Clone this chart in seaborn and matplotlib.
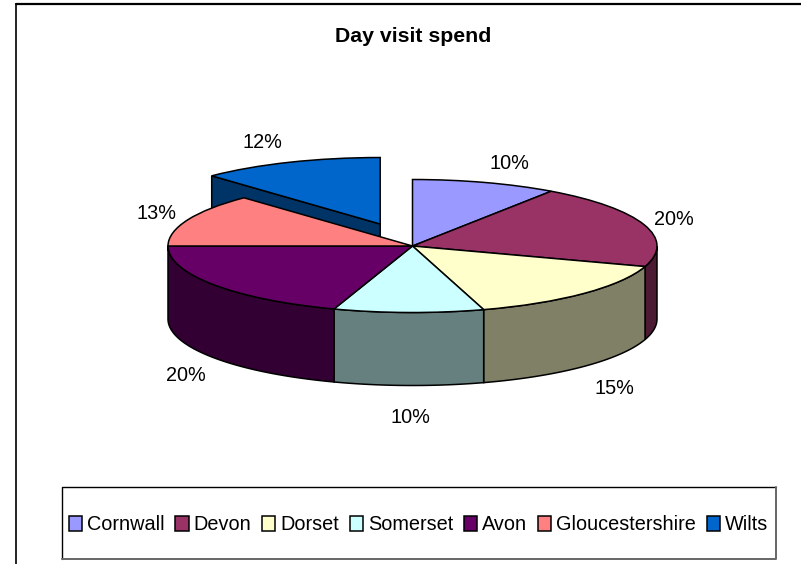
import numpy as np
import matplotlib.pyplot as plt
import seaborn as sns

sns.set_theme(style='white')
plt.rcParams['font.family'] = ['Liberation Sans', 'DejaVu Sans']

#values (slice edges say they are not quite the rounded labels)
counties = ['Cornwall', 'Devon', 'Dorset', 'Somerset', 'Avon', 'Gloucestershire', 'Wilts']
spend = [9.6, 20.4, 15.3, 9.9, 19.8, 12.9, 12.1]
explode = [0, 0, 0, 0, 0, 0, 0.356]

top_colors = sns.color_palette(['#9999FF', '#993366', '#FFFFCC', '#CCFFFF', '#660066', '#FF8080', '#0066CC'])
side_colors = sns.color_palette(['#4D4D80', '#4D1A33', '#808066', '#668080', '#330033', '#804040', '#003366'])

#label centres in pixels
label_pos = [(509, 163.5), (674, 220), (614, 389), (410, 418), (186, 376), (156, 214), (262, 143)]

W, H = 801, 564
CX, CY = 412.5, 246
RX, RY = 244.5, 66.5
DEPTH = 73 / RY


def px(x, y):
    #pixel position to the axes units of the squashed pie
    return (x - CX) / RX, (CY - y) / RY


fig = plt.figure(figsize=(W / 100, H / 100), dpi=100)
ax = fig.add_axes([0, 0, 1, 1])

wedges, _ = ax.pie(spend, startangle=90, counterclock=False, explode=explode, colors=top_colors,
                   wedgeprops={'edgecolor': 'black', 'linewidth': 1.1})
ax.set_aspect('auto')
ax.set_xlim(px(0, 0)[0], px(W, 0)[0])
ax.set_ylim(px(0, H)[1], px(0, 0)[1])
ax.axis('off')

#slice angles, clockwise from 12 o'clock
ends = np.cumsum(spend) / sum(spend) * 2 * np.pi
starts = np.r_[0, ends[:-1]]

#cut face of the pulled out slice, sits behind everything else
mid = (starts[-1] + ends[-1]) / 2
ox, oy = explode[-1] * np.sin(mid), explode[-1] * np.cos(mid)
rim_x, rim_y = ox + np.sin(starts[-1]), oy + np.cos(starts[-1])
ax.fill([ox, rim_x, rim_x, ox], [oy, rim_y, rim_y - DEPTH, oy - DEPTH],
        facecolor=side_colors[-1], edgecolor='black', linewidth=1.1, zorder=0.4)

#outer walls, only the front half of the rim shows
for a, b, c in zip(starts, ends, side_colors):
    a, b = max(a, np.pi / 2), min(b, 3 * np.pi / 2)
    if a >= b:
        continue
    t = np.linspace(a, b, 60)
    xs = np.sin(t)
    ys = np.cos(t)
    ax.fill(np.r_[xs, xs[::-1]], np.r_[ys, ys[::-1] - DEPTH],
            facecolor=c, edgecolor='black', linewidth=1.1, zorder=0.5)

#percent labels
for v, (x, y) in zip(spend, label_pos):
    ax.text(*px(x, y), f'{v:.0f}%', ha='center', va='center', fontsize=14.3, color='black')

ax.text(*px(413.5, 36), 'Day visit spend', ha='center', va='center', fontsize=15.3, fontweight='bold', color='black')

#chart frame, only left and top are inside the picture
ax.plot(*zip(px(15.5, 4), px(15.5, H)), color='black', lw=1.2, zorder=5)
ax.plot(*zip(px(15.5, 4), px(W, 4)), color='black', lw=1.6, zorder=5)

#legend box
ax.plot(*zip(px(61.5, 559), px(61.5, 487), px(776, 487)), color='black', lw=1, zorder=5)
ax.plot(*zip(px(61.5, 559), px(776, 559), px(776, 487)), color='#666666', lw=1.4, zorder=5)
lx, ly = px(418.7, 525)
ax.legend(wedges, counties, ncols=7, loc='center', bbox_to_anchor=(lx, ly), bbox_transform=ax.transData,
          frameon=False, fontsize=14.3, handlelength=0.66, handleheight=0.72, handletextpad=0.25,
          columnspacing=0.55, borderpad=0, labelcolor='black')

fig.savefig('out.png', dpi=100)
plt.close()
